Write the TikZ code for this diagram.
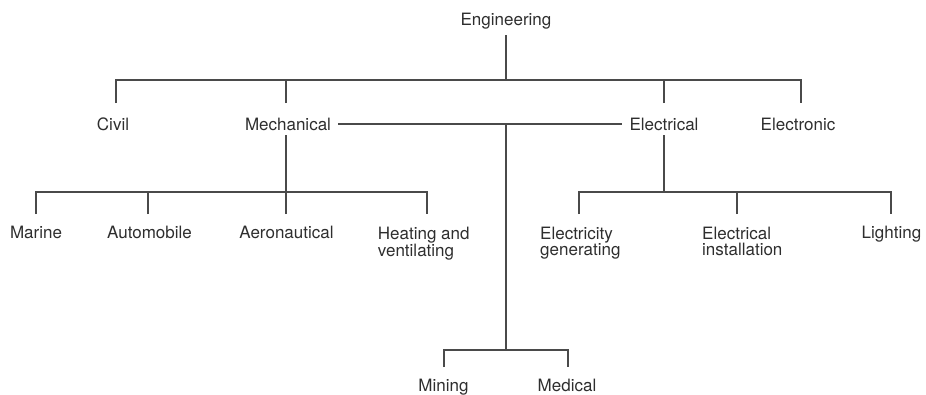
\documentclass[tikz,border=0pt]{standalone}
\usepackage{fontspec}
\setmainfont{TeX Gyre Heros}
\definecolor{ink}{HTML}{2E2E2E}
\definecolor{rule}{HTML}{4A4A4A}
\tikzset{
  lbl/.style={inner sep=0pt, text=ink, font={\fontsize{17}{16}\selectfont}, anchor=base},
  lblml/.style={inner sep=0pt, text=ink, font={\fontsize{17}{16}\selectfont}, anchor=north west, align=left},
  conn/.style={draw=rule, line width=1.1pt}
}
\begin{document}
\begin{tikzpicture}[x=1pt,y=-1pt]
\useasboundingbox (0,0) rectangle (926,394);
% level 0
\node[lbl] (eng) at (506,25) {Engineering};
% level 1
\node[lbl] (civ) at (113,130) {Civil};
\node[lbl] (mec) at (288,130) {Mechanical};
\node[lbl] (ela) at (664,130) {Electrical};
\node[lbl] (eln) at (798,130) {Electronic};
% level 2 mechanical
\node[lbl] (mar) at (36,238) {Marine};
\node[lbl] (aut) at (149.5,238) {Automobile};
\node[lbl] (aer) at (286.5,238) {Aeronautical};
\node[lblml] (hea) at (377.7,226.5) {Heating and\\ventilating};
% level 2 electrical
\node[lblml] (gen) at (540,226.5) {Electricity\\generating};
\node[lblml] (ins) at (702,226.5) {Electrical\\installation};
\node[lbl] (lig) at (891.5,238) {Lighting};
% level 2 central
\node[lbl] (min) at (443.5,391) {Mining};
\node[lbl] (med) at (567,391) {Medical};

% coordinates for connector ends
\coordinate (engB) at (506,35);
\coordinate (bar1) at (506,80);
\coordinate (civT) at (116,103);
\coordinate (mecT) at (286,103);
\coordinate (elaT) at (664,103);
\coordinate (elnT) at (801,103);
\coordinate (mecR) at (338,124);
\coordinate (elaL) at (622,124);
\coordinate (midJ) at (506,124);
\coordinate (midB) at (506,350);
\coordinate (minT) at (444,367);
\coordinate (medT) at (568,367);
\coordinate (mecB) at (286,135);
\coordinate (barM) at (286,192);
\coordinate (marT) at (36,214);
\coordinate (autT) at (148,214);
\coordinate (aerT) at (286,214);
\coordinate (heaT) at (427,214);
\coordinate (elaB) at (664,135);
\coordinate (barE) at (664,192);
\coordinate (genT) at (579,214);
\coordinate (insT) at (737,214);
\coordinate (ligT) at (891,214);

% Engineering tree
\draw[conn] (engB) -- (bar1);
\draw[conn] (civT) |- (elnT |- bar1) -- (elnT);
\draw[conn] (mecT) -- (mecT |- bar1);
\draw[conn] (elaT) -- (elaT |- bar1);
% Mechanical--Electrical link and central branch
\draw[conn] (mecR) -- (elaL);
\draw[conn] (midJ) -- (midB);
\draw[conn] (minT) |- (midB) -| (medT);
% Mechanical subtree
\draw[conn] (mecB) -- (barM);
\draw[conn] (marT) |- (barM) -| (heaT);
\draw[conn] (autT) -- (autT |- barM);
\draw[conn] (aerT) -- (barM);
% Electrical subtree
\draw[conn] (elaB) -- (barE);
\draw[conn] (genT) |- (barE) -| (ligT);
\draw[conn] (insT) -- (insT |- barE);
\end{tikzpicture}
\end{document}
